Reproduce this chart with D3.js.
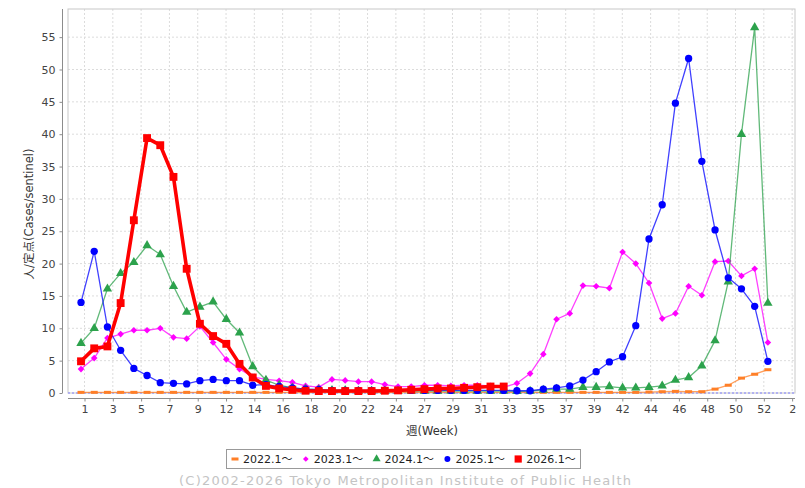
<!DOCTYPE html>
<html>
<head>
<meta charset="utf-8">
<script src="https://cdn.jsdelivr.net/npm/d3@7"></script>
<style>
  body { margin: 0; background: #fff; }
  text { font-family: "DejaVu Sans", "Noto Sans CJK JP", sans-serif; }
</style>
</head>
<body>
<div id="chart"></div>
<script>
// weeks of the season (53 slots)
var weeks = d3.range(1, 54);

// x tick labels, one every 15 days on the date axis
var xTickLabels = ["1","3","5","7","9","12","14","16","18","20","22","24","27",
  "29","31","33","35","37","39","42","44","46","48","50","52","2"];
var yTicks = [0,5,10,15,20,25,30,35,40,45,50,55];

var s2022 = [0.1,0.1,0.1,0.1,0.1,0.1,0.1,0.1,0.1,0.1,
  0.1,0.1,0.1,0.1,0.1,0.1,0.1,0.1,0.1,0.1,
  0.1,0.1,0.1,0.1,0.1,0.1,0.1,0.1,0.1,0.1,
  0.1,0.1,0.1,0.1,0.1,0.1,0.1,0.1,0.1,0.1,
  0.1,0.1,0.1,0.15,0.2,0.25,0.2,0.2,0.6,1.2,
  2.3,2.9,3.6];
var s2023 = [3.7,5.4,8.5,9.1,9.7,9.7,10.0,8.6,8.4,10.3,
  7.8,5.2,3.7,2.5,2.1,1.9,1.65,1.1,0.9,2.1,
  1.95,1.75,1.75,1.3,1.0,1.0,1.2,1.2,1.1,1.2,
  1.2,1.1,0.9,1.5,3.0,6.0,11.4,12.3,16.6,16.5,
  16.2,21.8,20.0,17.0,11.5,12.3,16.5,15.1,20.3,20.4,
  18.1,19.2,7.8];
var s2024 = [7.7,10.0,16.1,18.5,20.2,22.8,21.4,16.5,12.5,13.3,
  14.1,11.4,9.3,4.1,2.0,1.2,0.8,0.6,0.5,0.4,
  0.4,0.3,0.3,0.3,0.3,0.3,0.3,0.3,0.3,0.3,
  0.3,0.3,0.3,0.25,0.3,0.45,0.6,0.6,0.9,0.9,
  1.0,0.8,0.8,0.9,1.1,2.0,2.4,4.2,8.1,17.2,
  40.0,56.5,13.9];
var s2025 = [14.0,21.9,10.2,6.6,3.8,2.7,1.6,1.5,1.4,1.9,
  2.1,1.9,1.9,1.2,1.3,1.0,0.8,0.6,0.5,0.4,
  0.4,0.4,0.4,0.4,0.4,0.4,0.4,0.4,0.4,0.4,
  0.4,0.4,0.4,0.35,0.35,0.6,0.8,1.1,2.0,3.3,
  4.8,5.6,10.4,23.8,29.1,44.8,51.7,35.8,25.2,17.8,
  16.1,13.4,4.9];
var s2026 = [4.9,6.9,7.2,13.9,26.7,39.4,38.3,33.4,19.2,10.7,
  8.8,7.6,4.5,2.4,1.1,0.7,0.5,0.35,0.3,0.3,
  0.3,0.3,0.3,0.35,0.4,0.5,0.6,0.7,0.7,0.8,
  0.9,1.0,1.0];

var seriesNames = ["2022.1～","2023.1～","2024.1～","2025.1～","2026.1～"];

var series = [
  {name: seriesNames[0], values: s2022, color: "#ff7f27", width: 1.3, shape: "dash"},
  {name: seriesNames[1], values: s2023, color: "#ff00ff", width: 1.3, shape: "diamond"},
  {name: seriesNames[2], values: s2024, color: "#2ca24c", width: 1.3, shape: "triangle"},
  {name: seriesNames[3], values: s2025, color: "#0000ff", width: 1.3, shape: "circle"},
  {name: seriesNames[4], values: s2026, color: "#ff0000", width: 3.6, shape: "square"}
];

var plot = {left: 68, right: 795, top: 9, bottom: 393};

var svg = d3.select("#chart")
  .append("svg")
    .attr("width", 805)
    .attr("height", 488);

var x = d3.scaleLinear()
  .domain([0, 55])
  .range([67.8, 794.3]);

var y = d3.scaleLinear()
  .domain([0, 59.35])
  .range([plot.bottom, plot.top]);

// tick positions on the week scale (15 day steps)
var xTickVals = xTickLabels.map(function(d, i) { return 1.265 + i * 15 / 7; });

// grid
var grid = svg.append("g");
grid.selectAll(".vg")
  .data(xTickVals)
  .enter().append("line")
    .attr("x1", function(d) { return x(d); })
    .attr("x2", function(d) { return x(d); })
    .attr("y1", plot.top)
    .attr("y2", plot.bottom)
    .attr("stroke", "#dcdcdc")
    .attr("stroke-dasharray", "2,2");
grid.selectAll(".hg")
  .data(yTicks.slice(1))
  .enter().append("line")
    .attr("x1", plot.left)
    .attr("x2", plot.right)
    .attr("y1", function(d) { return y(d); })
    .attr("y2", function(d) { return y(d); })
    .attr("stroke", "#dcdcdc")
    .attr("stroke-dasharray", "2,2");

// plot border
svg.append("rect")
  .attr("x", plot.left)
  .attr("y", plot.top)
  .attr("width", plot.right - plot.left)
  .attr("height", plot.bottom - plot.top)
  .attr("fill", "none")
  .attr("stroke", "#c8c8c8");

// zero base line
svg.append("line")
  .attr("x1", plot.left).attr("x2", plot.right)
  .attr("y1", y(0)).attr("y2", y(0))
  .attr("stroke", "#8080ff")
  .attr("stroke-dasharray", "2,2");

// y axis
var yAxis = svg.append("g")
  .attr("transform", "translate(62.5,0)")
  .call(d3.axisLeft(y).tickValues(yTicks).tickSize(3).tickPadding(4));
yAxis.select(".domain").attr("stroke", "#8c8c8c").attr("d", "M0," + plot.top + "V" + plot.bottom);
yAxis.selectAll(".tick line").attr("stroke", "#8c8c8c");
yAxis.selectAll(".tick text")
  .attr("fill", "#444")
  .style("font-size", "11px")
  .style("font-family", "DejaVu Sans");

// x axis
var xAxis = svg.append("g")
  .attr("transform", "translate(0,398.5)")
  .call(d3.axisBottom(x).tickValues(xTickVals)
    .tickFormat(function(d, i) { return xTickLabels[i]; })
    .tickSize(3).tickPadding(4));
xAxis.select(".domain").attr("stroke", "#8c8c8c").attr("d", "M" + plot.left + ",0H" + plot.right);
xAxis.selectAll(".tick line").attr("stroke", "#8c8c8c");
xAxis.selectAll(".tick text")
  .attr("fill", "#444")
  .style("font-size", "11px")
  .style("font-family", "DejaVu Sans");

// axis titles
svg.append("text")
  .attr("x", 432)
  .attr("y", 435)
  .attr("text-anchor", "middle")
  .attr("fill", "#333")
  .style("font-size", "11.5px")
  .text("週(Week)");

svg.append("text")
  .attr("transform", "translate(33,214) rotate(-90)")
  .attr("text-anchor", "middle")
  .attr("fill", "#333")
  .style("font-size", "11.5px")
  .text("人/定点(Cases/sentinel)");

function drawMarker(g, shape, color, size) {
  if (shape == "dash") {
    g.append("rect").attr("x", -3.5).attr("y", -1.5).attr("width", 7).attr("height", 3).attr("fill", color);
  } else if (shape == "diamond") {
    // small rotated square, as in the original
    var h = Math.sqrt(size) / 2;
    g.append("rect").attr("x", -h).attr("y", -h).attr("width", 2 * h).attr("height", 2 * h)
      .attr("transform", "rotate(45)").attr("fill", color);
  } else {
    var sym = {triangle: d3.symbolTriangle, circle: d3.symbolCircle, square: d3.symbolSquare}[shape];
    g.append("path").attr("d", d3.symbol().type(sym).size(size)).attr("fill", color);
  }
}
var markerSize = {dash: 0, diamond: 22, triangle: 38, circle: 42, square: 62};

var line = d3.line()
  .x(function(d, i) { return x(weeks[i]); })
  .y(function(d) { return y(d); });

series.forEach(function(s) {
  var g = svg.append("g");
  g.append("path")
    .attr("d", line(s.values))
    .attr("fill", "none")
    .attr("stroke", s.color)
    .attr("stroke-opacity", s.shape == "square" ? 1 : 0.75)
    .attr("stroke-width", s.width)
    .attr("stroke-linejoin", "round");
  g.selectAll(".m")
    .data(s.values)
    .enter().append("g")
      .attr("transform", function(d, i) { return "translate(" + x(weeks[i]) + "," + y(d) + ")"; })
      .each(function() { drawMarker(d3.select(this), s.shape, s.color, markerSize[s.shape]); });
});

// legend
var legend = svg.append("g");
legend.append("rect")
  .attr("x", 226.5).attr("y", 449.5)
  .attr("width", 354).attr("height", 19)
  .attr("fill", "#fff")
  .attr("stroke", "#999");
series.forEach(function(s, i) {
  var item = legend.append("g").attr("transform", "translate(" + (235 + i * 70.8) + ",459)");
  drawMarker(item, s.shape, s.color, s.shape == "square" ? 52 : (s.shape == "diamond" ? 16 : 28));
  item.append("text")
    .attr("x", 8)
    .attr("y", 4)
    .attr("fill", "#222")
    .style("font-size", "11px")
    .text(s.name);
});

// credit
svg.append("text")
  .attr("x", 405)
  .attr("y", 485)
  .attr("text-anchor", "middle")
  .attr("fill", "#c4c4c4")
  .style("font-size", "13px")
  .attr("textLength", 452)
  .attr("lengthAdjust", "spacing")
  .text("(C)2002-2026 Tokyo Metropolitan Institute of Public Health");
</script>
</body>
</html>
